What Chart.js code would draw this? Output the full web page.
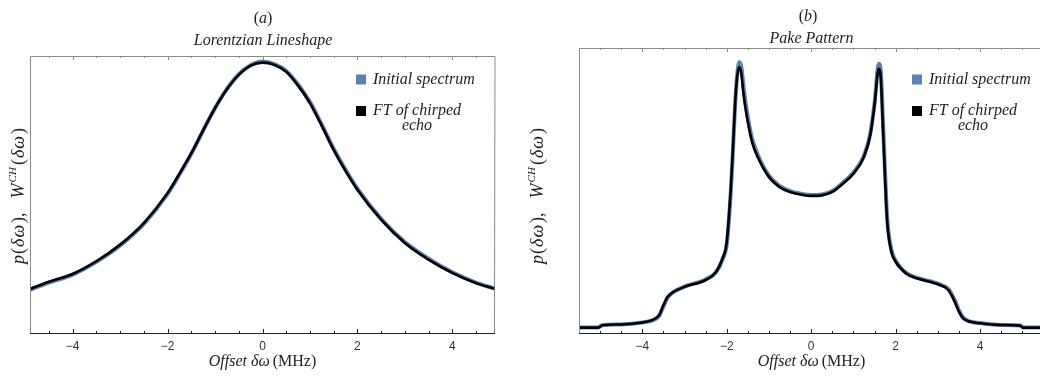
<!DOCTYPE html>
<html><head><meta charset="utf-8">
<script src="https://cdn.jsdelivr.net/npm/chart.js@4.4.0/dist/chart.umd.min.js"></script>
<style>
html,body{margin:0;padding:0;background:#fff;width:1040px;height:383px;overflow:hidden;}
#wrap{position:relative;width:1040px;height:383px;}
canvas{position:absolute;top:0;}
#ca{left:0;} #cb{left:520px;}
</style></head><body>
<div id="wrap"><canvas id="ca" width="520" height="383"></canvas><canvas id="cb" width="520" height="383"></canvas></div>
<script>
// ---- data ----
const lorentzX       = [-4.9,-4.5,-4.0,-3.5,-3.0,-2.5,-2.0,-1.75,-1.5,-1.25,-1.0,-0.75,-0.5,-0.25,0,0.25,0.5,0.75,1.0,1.25,1.5,1.75,2.0,2.5,3.0,3.5,4.0,4.5,4.9];
const lorentzFT      = [0.159,0.185,0.213,0.259,0.319,0.397,0.505,0.575,0.649,0.732,0.812,0.880,0.932,0.965,0.976,0.968,0.943,0.893,0.830,0.748,0.661,0.585,0.517,0.409,0.325,0.265,0.217,0.180,0.159];
const lorentzInitial = [0.156,0.182,0.211,0.257,0.316,0.394,0.502,0.572,0.647,0.731,0.812,0.881,0.934,0.967,0.980,0.971,0.946,0.897,0.834,0.752,0.665,0.589,0.521,0.412,0.328,0.268,0.219,0.182,0.160];

const pakeX       = [-5.5,-5.05,-4.95,-4.5,-4.0,-3.75,-3.6,-3.5,-3.4,-3.25,-3.0,-2.5,-2.25,-2.1,-2.0,-1.9,-1.85,-1.8,-1.75,-1.7,-1.65,-1.6,-1.5,-1.4,-1.25,-1.0,-0.75,-0.5,-0.25,0,0.25,0.5,0.75,1.0,1.25,1.4,1.5,1.6,1.65,1.7,1.75,1.8,1.9,2.0,2.25,2.5,3.0,3.25,3.4,3.5,3.6,3.75,4.0,4.5,4.95,5.02,5.42];
const pakeFT      = [0.019,0.019,0.027,0.030,0.037,0.046,0.063,0.098,0.127,0.145,0.162,0.186,0.215,0.262,0.320,0.518,0.659,0.810,0.904,0.933,0.904,0.834,0.740,0.670,0.612,0.547,0.512,0.495,0.486,0.481,0.483,0.495,0.524,0.559,0.618,0.694,0.799,0.927,0.892,0.717,0.542,0.390,0.285,0.250,0.209,0.192,0.171,0.151,0.110,0.075,0.051,0.040,0.034,0.028,0.026,0.019,0.019];
const pakeInitial = [0.019,0.019,0.027,0.030,0.037,0.045,0.060,0.093,0.124,0.145,0.163,0.188,0.214,0.258,0.312,0.505,0.650,0.805,0.910,0.950,0.930,0.860,0.755,0.682,0.620,0.552,0.516,0.498,0.489,0.484,0.486,0.498,0.527,0.563,0.622,0.700,0.805,0.945,0.915,0.745,0.565,0.405,0.292,0.254,0.211,0.194,0.173,0.154,0.115,0.079,0.054,0.041,0.035,0.028,0.026,0.019,0.019];

const xTickValues = [-4,-2,0,2,4];
const xTickLabels = ['\u22124','\u22122','0','2','4'];
const minorTicks  = [-5,-4.5,-4,-3.5,-3,-2.5,-2,-1.5,-1,-0.5,0,0.5,1,1.5,2,2.5,3,3.5,4,4.5,5];
const panelLabels = ['a','b'];
const panelTitles = ['Lorentzian Lineshape','Pake Pattern'];
const legendTexts = ['Initial spectrum','FT of chirped','echo'];
const seriesColors = ['#5E81B5','#000000'];

const SERIF = '"Liberation Serif", "DejaVu Serif", serif';
const TXT = '#1e1e1e';

function drawRuns(ctx, runs, cx, cy) {
  let w = 0;
  runs.forEach(r => { ctx.font = r.f; ctx.letterSpacing = r.ls || '0px'; r.w = ctx.measureText(r.t).width; w += r.w + (r.gap||0); });
  let x = cx - w/2;
  runs.forEach(r => { ctx.font = r.f; ctx.letterSpacing = r.ls || '0px'; ctx.fillText(r.t, x, cy + (r.dy||0)); x += r.w + (r.gap||0); });
  ctx.letterSpacing = '0px';
}

function decor(cfg) {
  return {
    id: 'decor',
    afterDraw(chart) {
      const {ctx, chartArea: a, scales: {x}} = chart;
      ctx.save();
      ctx.lineWidth = 1;
      ctx.strokeStyle = '#8a8a8a';
      ctx.beginPath();
      ctx.moveTo(a.left + 0.5, a.bottom);
      ctx.lineTo(a.left + 0.5, a.top + 0.5);
      ctx.lineTo(a.right, a.top + 0.5);
      if (cfg.rightFrame) ctx.lineTo(a.right - 0.5, a.bottom);
      ctx.stroke();
      ctx.beginPath();
      minorTicks.forEach(v => {
        if (v < x.min || v > x.max) return;
        const px = Math.round(x.getPixelForValue(v)) + 0.5;
        const len = xTickValues.includes(v) ? 4 : 2;
        ctx.moveTo(px, a.top); ctx.lineTo(px, a.top + len);
      });
      ctx.stroke();
      ctx.strokeStyle = '#222';
      ctx.beginPath();
      ctx.moveTo(a.left, a.bottom + 0.5); ctx.lineTo(a.right, a.bottom + 0.5);
      minorTicks.forEach(v => {
        if (v < x.min || v > x.max) return;
        const px = Math.round(x.getPixelForValue(v)) + 0.5;
        const len = xTickValues.includes(v) ? 4 : 2;
        ctx.moveTo(px, a.bottom); ctx.lineTo(px, a.bottom - len);
      });
      ctx.stroke();

      ctx.fillStyle = TXT;
      ctx.textBaseline = 'middle';
      ctx.textAlign = 'left';
      const cx = (a.left + (cfg.centerRight || a.right)) / 2;
      drawRuns(ctx, [
        {t:'(', f:'16px ' + SERIF},
        {t:cfg.label, f:'italic 16px ' + SERIF},
        {t:')', f:'16px ' + SERIF}
      ], cfg.labelX, cfg.labelY);
      drawRuns(ctx, [{t:cfg.title, f:'italic 16px ' + SERIF}], cfg.titleX, cfg.titleY);
      drawRuns(ctx, [
        {t:'Offset \u03B4\u03C9', f:'italic 16px ' + SERIF, gap:3},
        {t:'(MHz)', f:'16px ' + SERIF}
      ], cx, 362);
      ctx.save();
      ctx.translate(cfg.yLabelX, 196);
      ctx.rotate(-Math.PI/2);
      const f = 'italic 18px ' + SERIF, fu = '18px ' + SERIF;
      drawRuns(ctx, [
        {t:'p', f:f, gap:1},
        {t:'(', f:fu, gap:1},
        {t:'\u03B4\u03C9', f:f, ls:'1px', gap:1},
        {t:')', f:fu},
        {t:',', f:fu, gap:14},
        {t:'W', f:f, gap:1},
        {t:'CH', f:'italic 11px ' + SERIF, dy:-6, gap:2},
        {t:'(', f:fu, gap:1},
        {t:'\u03B4\u03C9', f:f, ls:'1px', gap:1},
        {t:')', f:fu}
      ], 0, 0);
      ctx.restore();
      const lx = cfg.legX;
      ctx.fillStyle = seriesColors[0];
      ctx.fillRect(lx, 74.5, 10, 10);
      ctx.fillStyle = seriesColors[1];
      ctx.fillRect(lx, 106, 10, 10);
      ctx.fillStyle = TXT;
      ctx.font = 'italic 16px ' + SERIF;
      ctx.textAlign = 'left';
      ctx.fillText(legendTexts[0], lx + 17, 80);
      ctx.fillText(legendTexts[1], lx + 17, 111);
      const w1 = ctx.measureText(legendTexts[1]).width;
      ctx.textAlign = 'center';
      ctx.fillText(legendTexts[2], lx + 17 + w1/2, 126);
      ctx.restore();
    }
  };
}

function makeChart(id, xs, init, ft, cfg) {
  const pts = ys => xs.map((v, i) => ({x: v, y: ys[i]}));
  return new Chart(document.getElementById(id), {
    type: 'line',
    data: { datasets: [
      {label:'FT of chirped echo', data: pts(ft), borderColor: seriesColors[1], borderWidth: 2.6, pointRadius: 0, cubicInterpolationMode: 'monotone', order: 0},
      {label:'Initial spectrum', data: pts(init), borderColor: seriesColors[0], borderWidth: 4, pointRadius: 0, cubicInterpolationMode: 'monotone', order: 1}
    ]},
    options: {
      responsive: false, animation: false, devicePixelRatio: 1,
      layout: {padding: {left: cfg.left, right: cfg.right, top: cfg.top, bottom: 0}},
      plugins: {legend: {display: false}, tooltip: {enabled: false}, title: {display: false}},
      scales: {
        x: {
          type: 'linear', min: cfg.xmin, max: cfg.xmax,
          grid: {display: false, drawTicks: false}, border: {display: false},
          ticks: {font: {family: 'Liberation Sans', size: 12}, color: '#333', padding: 6, maxRotation: 0, autoSkip: false,
                  callback: (v, i) => xTickLabels[i]},
          afterBuildTicks: s => { s.ticks = xTickValues.map(v => ({value: v})); },
          afterFit: s => { s.height = 50; }
        },
        y: {display: false, min: 0, max: 1}
      }
    },
    plugins: [decor(cfg)]
  });
}

makeChart('ca', lorentzX, lorentzInitial, lorentzFT, {
  left: 30, right: 25, top: 56, xmin: -4.9, xmax: 4.9, rightFrame: true,
  label: panelLabels[0], title: panelTitles[0], labelX: 263, labelY: 18.5, titleX: 263, titleY: 40.5,
  yLabelX: 19, legX: 356
});
makeChart('cb', pakeX, pakeInitial, pakeFT, {
  left: 59, right: 0, top: 48, xmin: -5.5, xmax: 5.42, rightFrame: false, centerRight: 524,
  label: panelLabels[1], title: panelTitles[1], labelX: 288, labelY: 16.5, titleX: 291.5, titleY: 38.5,
  yLabelX: 18, legX: 392
});
</script>
</body></html>
